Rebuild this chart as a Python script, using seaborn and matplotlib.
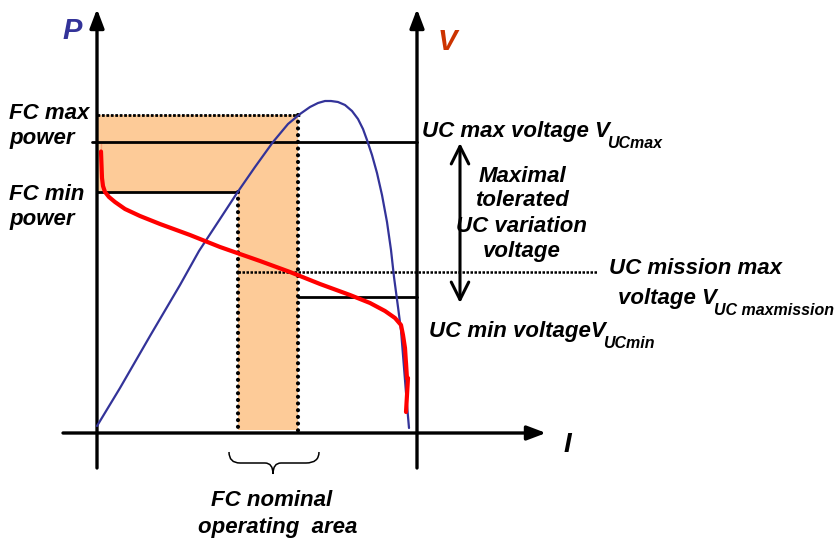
import matplotlib
matplotlib.use("Agg")
import matplotlib.pyplot as plt
from matplotlib.path import Path
from matplotlib.patches import PathPatch
import seaborn as sns

# ---- data (diagram coordinates: x = current I, y = screen-like, downward) ----
p_curve_i = [97, 120, 150, 180, 199, 220, 237, 255, 273, 288, 300, 310, 318, 325, 331,
             338, 345, 352, 358, 363, 367, 372, 377, 382, 387, 391, 394, 398, 401, 403, 405, 407, 409]
p_curve_p = [426, 388, 336, 285, 251, 219, 193, 167, 142, 124, 114, 107, 103, 101, 101,
             102, 105, 111, 119, 129, 140, 155, 173, 195, 222, 250, 277, 307, 330, 355, 380, 405, 428]

v_curve_i = [101, 101, 102, 103, 105, 109, 115, 125, 140, 160, 190, 220, 260, 290, 320, 350,
             370, 385, 395, 401, 403, 405, 407, 408, 407, 406]
v_curve_v = [143, 160, 178, 186, 192, 197, 202, 209, 216, 224, 235, 247, 261, 272, 284, 295,
             303, 311, 318, 325, 335, 348, 362, 378, 395, 412]

fc_max_power = 115
uc_max_voltage = 142
fc_min_power = 192
uc_mission_max = 272
uc_min_voltage = 297
i_fc_min = 238
i_fc_max = 298

left_labels = ["FC max\npower", "FC min\npower"]
variation_label = ["Maximal", "tolerated", "UC variation", "voltage"]

sns.set_theme(style="white")
plt.rcParams["font.family"] = ["Liberation Sans", "DejaVu Sans"]

fig = plt.figure(figsize=(8.37, 5.43), dpi=100)
ax = fig.add_axes([0, 0, 1, 1])
ax.set_xlim(0, 837)
ax.set_ylim(543, 0)
ax.axis("off")

FS = 16
tk = dict(fontweight="bold", style="italic", color="black")

# orange nominal area (L shape)
ax.fill([97, 300, i_fc_max, i_fc_max, i_fc_min, i_fc_min, 97],
        [fc_max_power, fc_max_power, fc_max_power, 430, 430, fc_min_power, fc_min_power],
        color="#FDCB98", lw=0, zorder=1)

# axes with arrows
arr = dict(arrowstyle="-|>,head_length=0.95,head_width=0.36", lw=2.4, color="black",
           shrinkA=0, shrinkB=0, mutation_scale=12)
ax.annotate("", xy=(97, 9), xytext=(97, 468), arrowprops=arr, zorder=5)
ax.annotate("", xy=(417, 9), xytext=(417, 468), arrowprops=arr, zorder=5)
ax.annotate("", xy=(546, 433), xytext=(63, 433), arrowprops=arr, zorder=5)

# horizontal reference lines
ax.plot([97, 300], [fc_max_power, fc_max_power], color="black", lw=2, ls=(0, (1, 0.6)), zorder=3)
ax.plot([92, 417], [uc_max_voltage, uc_max_voltage], color="black", lw=2, zorder=3)
ax.plot([97, i_fc_min], [fc_min_power, fc_min_power], color="black", lw=2, zorder=3)
ax.plot([i_fc_min, 597], [uc_mission_max, uc_mission_max], color="black", lw=1.8, ls=(0, (1, 0.6)), zorder=3)
ax.plot([i_fc_max, 417], [uc_min_voltage, uc_min_voltage], color="black", lw=2, zorder=3)

# dotted vertical lines
dot = dict(color="black", lw=3, ls=(0, (0.01, 1.6)), dash_capstyle="round", zorder=4)
ax.plot([i_fc_min, i_fc_min], [fc_min_power, 430], **dot)
ax.plot([i_fc_max, i_fc_max], [fc_max_power, 436], **dot)

# curves
sns.lineplot(x=p_curve_i, y=p_curve_p, sort=False, color="#333399", lw=1.6, ax=ax, zorder=6)
sns.lineplot(x=v_curve_i, y=v_curve_v, sort=False, color="#FF0000", lw=3, ax=ax, zorder=7)

# double arrow
ax.annotate("", xy=(460, 143), xytext=(460, 303),
            arrowprops=dict(arrowstyle="<->,head_length=0.7,head_width=0.35", lw=2.2,
                            color="black", shrinkA=0, shrinkB=0, mutation_scale=18), zorder=5)

# brace
verts = [(229, 452), (229, 463), (240, 463), (265, 463), (273, 463), (273, 474),
         (273, 463), (281, 463), (306, 463), (319, 463), (319, 452)]
codes = [Path.MOVETO, Path.CURVE3, Path.CURVE3, Path.LINETO, Path.CURVE3, Path.CURVE3,
         Path.CURVE3, Path.CURVE3, Path.LINETO, Path.CURVE3, Path.CURVE3]
ax.add_patch(PathPatch(Path(verts, codes), fill=False, lw=1.1, color="black", zorder=5))

# axis labels
ax.text(72, 31, "P", fontsize=21, fontweight="bold", style="italic", color="#333399", ha="center", va="center")
ax.text(447, 42, "V", fontsize=21, fontweight="bold", style="italic", color="#CC3300", ha="center", va="center")
ax.text(567, 445, "I", fontsize=20, **tk, ha="center", va="center")

# left labels
ax.text(9, 126, left_labels[0], fontsize=FS, **tk, ha="left", va="center", linespacing=1.2)
ax.text(9, 207, left_labels[1], fontsize=FS, **tk, ha="left", va="center", linespacing=1.2)

# right labels with subscripts
def label_sub(x, y, main, sub, ha="left"):
    t = ax.text(x, y, main, fontsize=FS, **tk, ha=ha, va="baseline")
    ax.annotate(sub, xy=(1, 0), xycoords=t, xytext=(-2, -4), textcoords="offset points",
                fontsize=11.5, **tk, ha="left", va="baseline")
    return t

label_sub(422, 137, "UC max voltage V", "UCmax")
ax.text(609, 269, "UC mission max", fontsize=FS, **tk, ha="left", va="center")
label_sub(618, 304, "voltage V", "UC maxmission")
label_sub(429, 337, "UC min voltageV", "UCmin")

for k, s in enumerate(variation_label):
    ax.text(522, 176 + 25 * k, s, fontsize=FS, **tk, ha="center", va="center")

ax.text(272, 501, "FC nominal", fontsize=FS, **tk, ha="center", va="center")
ax.text(278, 528, "operating  area", fontsize=FS, **tk, ha="center", va="center")

fig.savefig("out.png", dpi=100)
